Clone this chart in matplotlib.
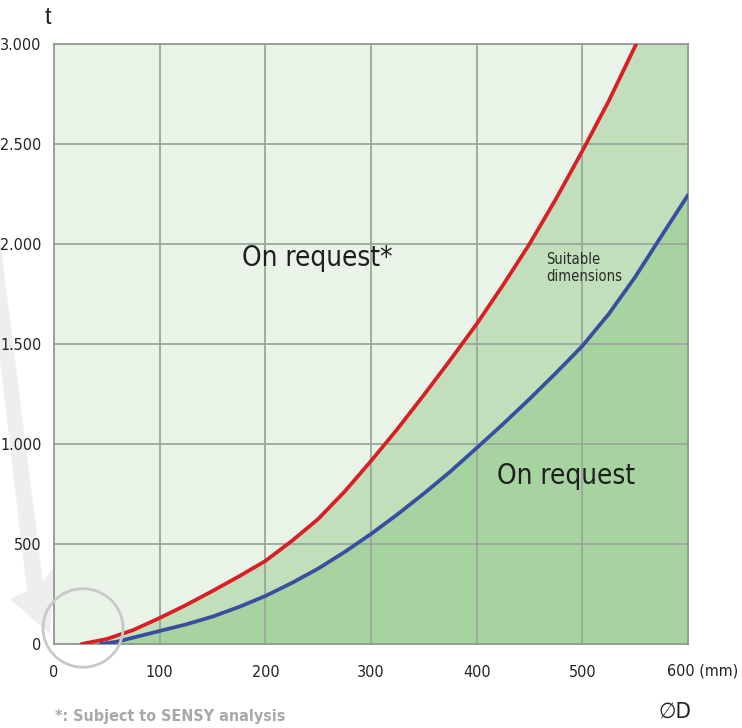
import numpy as np
import matplotlib
matplotlib.use("Agg")
import matplotlib.pyplot as plt
from matplotlib.patches import Polygon, Circle

# Data
red_d = [26, 50, 75, 100, 125, 150, 175, 200, 225, 250, 275, 300, 325, 350, 375, 400,
         425, 450, 475, 500, 525, 551, 600]
red_t = [0, 25, 70, 130, 195, 265, 338, 415, 515, 625, 762, 915, 1075, 1245, 1420, 1600,
         1795, 2000, 2225, 2465, 2715, 3000, 3560]
blue_d = [44, 60, 75, 100, 125, 150, 175, 200, 225, 250, 275, 300, 325, 350, 375, 400,
          425, 450, 475, 500, 525, 550, 570, 600]
blue_t = [0, 12, 32, 65, 98, 137, 185, 240, 305, 377, 460, 550, 648, 752, 862, 980,
          1100, 1225, 1355, 1490, 1650, 1835, 2000, 2245]
x_ticks = [0, 100, 200, 300, 400, 500]
y_ticks = [0, 500, 1000, 1500, 2000, 2500, 3000]
y_tick_labels = ["0", "500", "1.000", "1.500", "2.000", "2.500", "3.000"]

W, H = 742, 728
fig = plt.figure(figsize=(W / 100, H / 100), dpi=100)
fig.patch.set_facecolor("white")

def fx(px):
    return px / W

def fy(py):
    return 1 - py / H

# faint arrow in background (figure pixel coords, y from top)
arrow_px = [(0, 240), (43, 582), (56, 564), (50, 634), (10, 599), (27, 591), (0, 360)]
fig.patches.append(Polygon([(fx(x), fy(y)) for x, y in arrow_px], closed=True,
                           transform=fig.transFigure, facecolor="#eeeeee",
                           edgecolor="none", zorder=1))

L, R, T, B = 54, 688, 44, 644
ax = fig.add_axes([L / W, 1 - B / H, (R - L) / W, (B - T) / H])
ax.set_zorder(2)
ax.set_facecolor("#e9f3e7")
ax.set_xlim(0, 600)
ax.set_ylim(0, 3000)

ax.fill_between(red_d, 0, red_t, color="#c0dfba", lw=0, zorder=0.5)
ax.fill_between(blue_d, 0, blue_t, color="#a7d3a0", lw=0, zorder=0.6)

for xv in range(100, 600, 100):
    ax.axvline(xv, color="#9aa89a", lw=1.3, zorder=1)
for yv in range(500, 3000, 500):
    ax.axhline(yv, color="#9aa89a", lw=1.3, zorder=1)

ax.plot(red_d, red_t, color="#d91f26", lw=2.7, solid_capstyle="round",
        solid_joinstyle="round", zorder=3)
ax.plot(blue_d, blue_t, color="#3a4ea0", lw=2.7, solid_capstyle="round",
        solid_joinstyle="round", zorder=3)

for s in ax.spines.values():
    s.set_color("#8f9a8f")
    s.set_linewidth(1.3)

narrow = ["Liberation Sans Narrow", "DejaVu Sans"]
fkw = dict(family=narrow, fontstretch="condensed")
ax.set_xticks(x_ticks)
ax.set_xticklabels([str(v) for v in x_ticks], fontsize=11.5, color="#222222", **fkw)
ax.set_yticks(y_ticks)
ax.set_yticklabels(y_tick_labels, fontsize=11.5, color="#222222", **fkw)
ax.tick_params(axis="x", length=0, pad=15)
ax.tick_params(axis="y", length=0, pad=9)

fig.text(fx(667), fy(671), "600 (mm)", fontsize=11.5, color="#222222",
         ha="left", va="center", **fkw)
fig.text(fx(48), fy(18), "t", fontsize=17, color="#222222", ha="center", va="center",
         family=["Liberation Sans", "DejaVu Sans"])
fig.text(fx(675), fy(712), "∅D", fontsize=16, color="#222222", ha="center", va="center",
         **fkw)
fig.text(fx(55), fy(716), "*: Subject to SENSY analysis", fontsize=11.5, color="#a8a8a8",
         fontweight="bold", ha="left", va="center", **fkw)

fig.text(fx(317), fy(258), "On request*", fontsize=20, color="#1e1e1e", ha="center",
         va="center", **fkw)
fig.text(fx(566), fy(476), "On request", fontsize=20, color="#1e1e1e", ha="center",
         va="center", **fkw)
fig.text(fx(546), fy(268), "Suitable\ndimensions", fontsize=10.5, color="#2a2a2a",
         ha="left", va="center", linespacing=1.2, **fkw)

# circle highlighting the origin
fig.patches.append(Circle((fx(83), fy(628)), 40 / W, transform=fig.transFigure,
                          facecolor="none", edgecolor="#c8c8c8", lw=2, zorder=5))

fig.savefig("out.png", dpi=100)
